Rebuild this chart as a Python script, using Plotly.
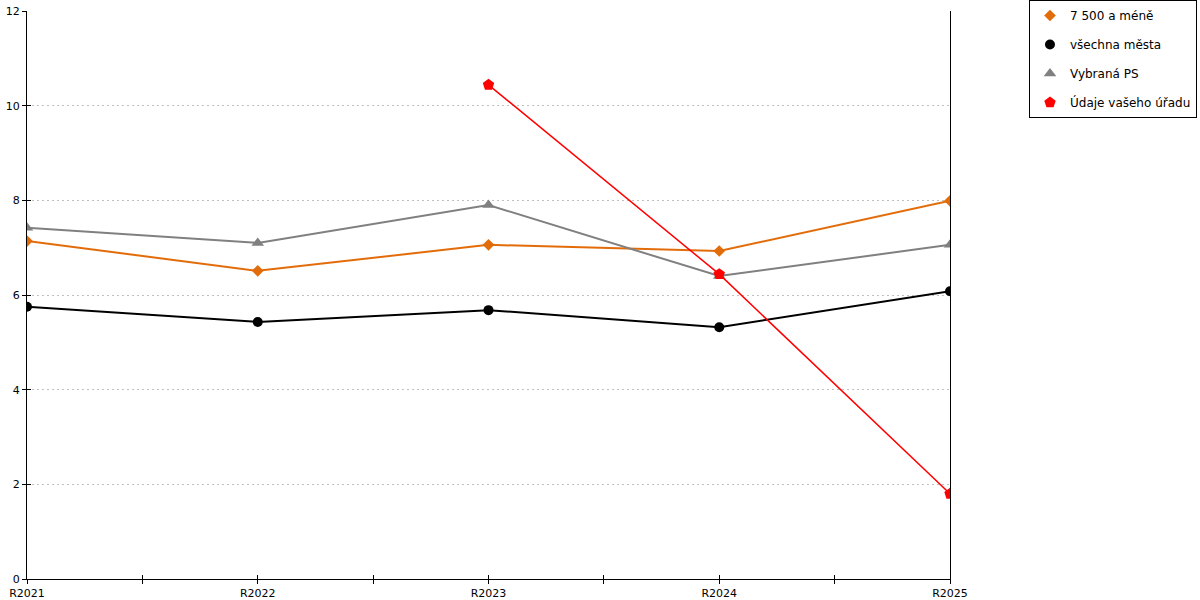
import plotly.graph_objects as go

# categories and series
roky = ["R2021", "R2022", "R2023", "R2024", "R2025"]
mesta_7500 = [7.14, 6.51, 7.06, 6.93, 7.99]
vsechna_mesta = [5.75, 5.43, 5.68, 5.32, 6.08]
vybrana_ps = [7.42, 7.10, 7.90, 6.40, 7.06]
vas_urad = [None, None, 10.44, 6.44, 1.80]

idx = list(range(len(roky)))

fig = go.Figure()

series = [
    ("7 500 a méně", mesta_7500, "#E36C0A", "diamond", 9, 2),
    ("všechna města", vsechna_mesta, "#000000", "circle", 10, 2),
    ("Vybraná PS", vybrana_ps, "#808080", "triangle-up", 11, 2),
    ("Údaje vašeho úřadu", vas_urad, "#FF0000", "pentagon", 12, 1.5),
]
for name, vals, color, symbol, msize, lw in series:
    # line + markers, kept out of the legend
    fig.add_trace(go.Scatter(
        x=idx, y=vals, name=name, legendgroup=name, showlegend=False,
        mode="lines+markers",
        line=dict(color=color, width=lw),
        marker=dict(symbol=symbol, size=msize, color=color),
    ))
    # legend entry shows only the marker
    fig.add_trace(go.Scatter(
        x=[None], y=[None], name=name, legendgroup=name,
        mode="markers",
        marker=dict(symbol=symbol, size=msize, color=color),
    ))

# empty trace so the overlay axes (inner half of the crossing ticks) get drawn
fig.add_trace(go.Scatter(x=[None], y=[None], xaxis="x2", yaxis="y2",
                         showlegend=False, hoverinfo="skip"))

axis_font = dict(family="DejaVu Sans", size=11, color="#000000")

fig.update_layout(
    width=1200, height=600,
    margin=dict(l=27, r=250, t=11, b=21, autoexpand=False),
    plot_bgcolor="white", paper_bgcolor="white",
    font=dict(family="DejaVu Sans", size=12, color="#000000"),
    legend=dict(
        x=1.2676, y=1.0194, xanchor="right", yanchor="top",
        bordercolor="#000000", borderwidth=1,
        font=dict(family="DejaVu Sans", size=12),
        tracegroupgap=10, itemwidth=30,
    ),
    xaxis=dict(
        range=[0, 4], tickvals=idx, ticktext=roky,
        showgrid=False, zeroline=False,
        showline=True, linecolor="#000000", linewidth=1,
        ticks="outside", ticklen=4, tickcolor="#000000",
        minor=dict(dtick=0.5, tick0=0, ticks="outside", ticklen=4, tickcolor="#000000"),
        tickfont=axis_font,
    ),
    yaxis=dict(
        range=[0, 12], dtick=2,
        showgrid=True, gridcolor="#BFBFBF", griddash="2px,3px", gridwidth=1,
        zeroline=False,
        showline=True, linecolor="#000000", linewidth=1, mirror=True,
        ticks="outside", ticklen=4, tickcolor="#000000",
        tickfont=axis_font,
    ),
    xaxis2=dict(
        overlaying="x", range=[0, 4], tickvals=idx,
        showticklabels=False, showgrid=False, zeroline=False,
        ticks="inside", ticklen=4, tickcolor="#000000",
        minor=dict(dtick=0.5, tick0=0, ticks="inside", ticklen=4, tickcolor="#000000"),
    ),
    yaxis2=dict(
        overlaying="y", range=[0, 12], dtick=2,
        showticklabels=False, showgrid=False, zeroline=False,
        ticks="inside", ticklen=4, tickcolor="#000000",
    ),
)

# page body has a default 8px margin, drop it so the figure sits at 0,0
fig.write_html("out.html", config={"displayModeBar": False},
               post_script="document.body.style.margin='0';")
